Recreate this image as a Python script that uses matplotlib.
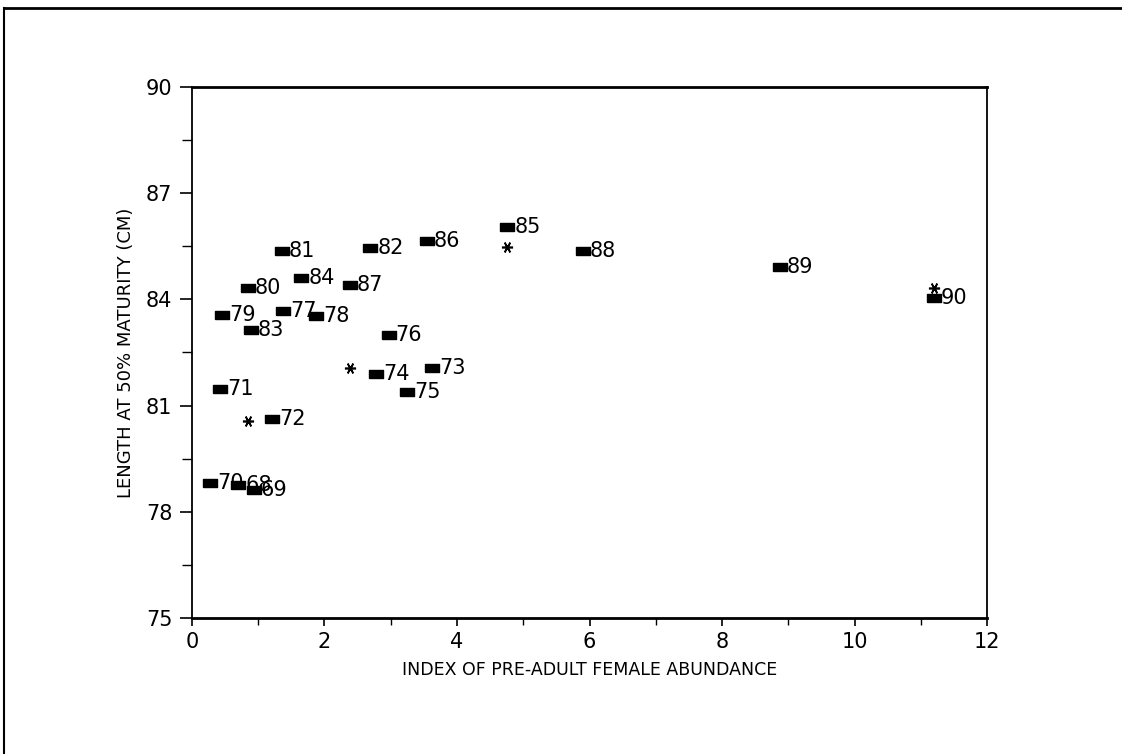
import matplotlib
matplotlib.use("Agg")
import matplotlib.pyplot as plt
from matplotlib.lines import Line2D

plt.rcParams['font.family'] = ['DejaVu Sans']

# year labels, abundance index, length at 50% maturity (cm)
years = ['68', '69', '70', '71', '72', '73', '74', '75', '76', '77', '78', '79',
         '80', '81', '82', '83', '84', '85', '86', '87', '88', '89', '90']
abundance = [0.70, 0.93, 0.28, 0.43, 1.21, 3.62, 2.78, 3.25, 2.97, 1.38, 1.87, 0.46,
             0.84, 1.36, 2.69, 0.89, 1.65, 4.76, 3.54, 2.38, 5.90, 8.87, 11.19]
length50 = [78.77, 78.63, 78.83, 81.48, 80.62, 82.05, 81.90, 81.38, 82.98, 83.68, 83.52, 83.55,
            84.32, 85.37, 85.45, 83.14, 84.59, 86.03, 85.64, 84.41, 85.37, 84.90, 84.04]

# asterisk points (no labels)
star_x = [0.84, 2.39, 4.76, 11.19]
star_y = [80.58, 82.06, 85.49, 84.32]

x_ticks = [0, 2, 4, 6, 8, 10, 12]
y_ticks = [75, 78, 81, 84, 87, 90]

fig = plt.figure(figsize=(11.22, 7.54), dpi=100)
ax = fig.add_axes([0.171, 0.180, 0.709, 0.705])

rect = [(-1, -0.55), (1, -0.55), (1, 0.55), (-1, 0.55), (-1, -0.55)]
ax.plot(abundance, length50, linestyle='none', marker=rect, markersize=9.5,
        color='black')
ax.plot(star_x, star_y, linestyle='none', marker=(6, 2, 90), markersize=8,
        color='black', markeredgewidth=1.2)

for x, y, t in zip(abundance, length50, years):
    ax.annotate(t, (x, y), xytext=(5, 0), textcoords='offset points',
                ha='left', va='center', fontsize=15)

ax.set_xlim(0, 12)
ax.set_ylim(75, 90)
ax.set_xticks(x_ticks)
ax.set_xticks([1, 3, 5, 7, 9, 11], minor=True)
ax.set_yticks(y_ticks)
ax.set_yticks([76.5, 79.5, 82.5, 85.5, 88.5], minor=True)
ax.tick_params(axis='both', which='both', direction='out', color='black',
               labelsize=15, top=False, right=False)
ax.tick_params(axis='x', which='major', length=6, width=1.2, pad=4)
ax.tick_params(axis='x', which='minor', length=5, width=1)
ax.tick_params(axis='y', which='major', length=9, width=1.2, pad=5)
ax.tick_params(axis='y', which='minor', length=7, width=1)

for side in ['left', 'right', 'top']:
    ax.spines[side].set_linewidth(1.3)
ax.spines['bottom'].set_linewidth(2)
ax.spines['top'].set_linewidth(2)

ax.set_xlabel('INDEX OF PRE-ADULT FEMALE ABUNDANCE', fontsize=12.5, labelpad=6)
ax.set_ylabel('LENGTH AT 50% MATURITY (CM)', fontsize=13, labelpad=8)

# page border from the scan
fig.add_artist(Line2D([0.004, 1.0], [0.989, 0.989], color='black', linewidth=2,
                      transform=fig.transFigure))
fig.add_artist(Line2D([0.004, 0.004], [0.0, 0.989], color='black', linewidth=1.5,
                      transform=fig.transFigure))

fig.savefig('out.png', dpi=100, facecolor='white')
